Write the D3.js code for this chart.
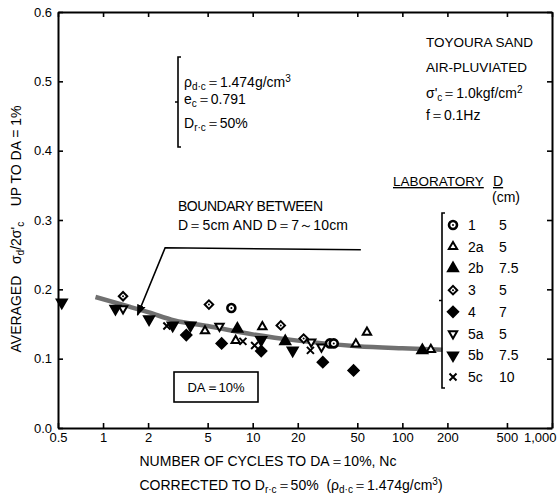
<!DOCTYPE html>
<html>
<head>
<meta charset="utf-8">
<script src="https://cdn.jsdelivr.net/npm/d3@7"></script>
<style>
  body { margin: 0; background: #fff; }
  text { font-family: "Liberation Sans", Arial, sans-serif; fill: #000; white-space: pre; }
</style>
</head>
<body>
<script>
// data: [Nc, averaged stress ratio]
var lab1  = [[7.2, 0.173], [32.8, 0.122], [34.8, 0.122]];
var lab2a = [[4.8, 0.140], [7.7, 0.126], [11.6, 0.146], [48.9, 0.121], [58, 0.138], [155, 0.113]];
var lab2b = [[7.9, 0.143], [16.5, 0.125], [136, 0.112]];
var lab3  = [[1.36, 0.190], [5.1, 0.178], [15.4, 0.148], [21.9, 0.129]];
var lab4  = [[3.6, 0.134], [6.2, 0.122], [11.4, 0.111], [29.4, 0.095], [47.2, 0.083]];
var lab5a = [[1.36, 0.172], [6.0, 0.147], [24.6, 0.124], [28.8, 0.117]];
var lab5b = [[0.53, 0.181], [1.21, 0.172], [2.03, 0.157], [2.92, 0.148], [3.84, 0.148], [11.4, 0.127], [18.5, 0.112]];
var lab5c = [[2.67, 0.147], [8.6, 0.125], [10.3, 0.119], [24.3, 0.112]];

// fitted curve
var curveN = [0.89, 1.5, 2, 3, 5, 10, 20, 50, 100, 185];
var curveV = [0.189, 0.175, 0.167, 0.155, 0.147, 0.135, 0.126, 0.118, 0.115, 0.113];

var labNames = ["1", "2a", "2b", "3", "4", "5a", "5b", "5c"];
var labD = ["5", "5", "7.5", "5", "7", "5", "7.5", "10"];
var labData = [lab1, lab2a, lab2b, lab3, lab4, lab5a, lab5b, lab5c];

var xTicks = [0.5, 1, 2, 5, 10, 20, 50, 100, 200, 500, 1000];
var xTickLabels = ["0.5", "1", "2", "5", "10", "20", "50", "100", "200", "500", "1,000"];
var yTicks = [0, 0.1, 0.2, 0.3, 0.4, 0.5, 0.6];

var w = 557, h = 497;
var svg = d3.select("body").append("svg").attr("width", w).attr("height", h);

var x = d3.scaleLog().domain([0.5, 1000]).range([58, 552]);
var y = d3.scaleLinear().domain([0, 0.6]).range([428, 12]);

// axes, ticks pointing inside
var gx = svg.append("g").attr("transform", "translate(0,428)")
    .call(d3.axisBottom(x).tickValues(xTicks).tickSize(-5).tickSizeOuter(0).tickPadding(5)
        .tickFormat(function(d, i) { return xTickLabels[i]; }));
svg.append("g").attr("transform", "translate(0,12)")
    .call(d3.axisTop(x).tickValues(xTicks).tickSize(-5).tickSizeOuter(0).tickFormat(""));
svg.append("g").attr("transform", "translate(58,0)")
    .call(d3.axisLeft(y).tickValues(yTicks).tickSize(-5).tickSizeOuter(0).tickPadding(6).tickFormat(d3.format(".1f")));
svg.append("g").attr("transform", "translate(552,0)")
    .call(d3.axisRight(y).tickValues(yTicks).tickSize(-5).tickSizeOuter(0).tickFormat(""));

svg.selectAll(".domain").attr("stroke", "#000").attr("stroke-width", 2);
svg.selectAll(".tick line").attr("stroke", "#000").attr("stroke-width", 1.6);
svg.selectAll(".tick text").attr("font-size", "13px").attr("font-family", "Liberation Sans, Arial, sans-serif").attr("fill", "#000");
gx.selectAll(".tick text").filter(function(d) { return d === 1000; })
    .attr("text-anchor", "end").attr("dx", "4px");

// fitted curve
var curvePts = curveN.map(function(n, i) { return [n, curveV[i]]; });
svg.append("path")
    .datum(curvePts)
    .attr("fill", "none")
    .attr("stroke", "#707070")
    .attr("stroke-width", 4.5)
    .attr("d", d3.line().x(function(d) { return x(d[0]); }).y(function(d) { return y(d[1]); }).curve(d3.curveMonotoneX));

// marker shapes
function markerPath(i) {
  var tri = d3.symbol().type(d3.symbolTriangle);
  var sq = d3.symbol().type(d3.symbolSquare);
  switch (i) {
    case 0: return d3.symbol().type(d3.symbolCircle).size(50)();
    case 1: return tri.size(30)();
    case 2: return tri.size(44)();
    case 3: return sq.size(36)();
    case 4: return sq.size(54)();
    case 5: return tri.size(30)();
    case 6: return tri.size(44)();
    case 7: return "M-3.5,-3.5L3.5,3.5M-3.5,3.5L3.5,-3.5";
  }
}
var filled = [false, false, true, false, true, false, true, false];
var rot = [0, 0, 0, 45, 45, 180, 180, 0];

function drawMarker(g, i) {
  g.append("path")
    .attr("d", markerPath(i))
    .attr("transform", "rotate(" + rot[i] + ")")
    .attr("fill", i === 7 ? "none" : (filled[i] ? "#000" : "#fff"))
    .attr("stroke", "#000")
    .attr("stroke-width", i === 0 ? 2.6 : 2);
  if (i === 0 || i === 3) {
    g.append("circle").attr("r", 1).attr("fill", "#000");
  }
}

labData.forEach(function(arr, i) {
  svg.append("g").selectAll("g")
    .data(arr)
    .enter()
    .append("g")
    .attr("transform", function(d) { return "translate(" + x(d[0]) + "," + y(d[1]) + ")"; })
    .each(function() { drawMarker(d3.select(this), i); });
});

// legend
var legY = d3.scaleLinear().domain([0, 7]).range([225, 377]);
svg.append("text").attr("x", 393).attr("y", 186).attr("font-size", "13.5px")
    .attr("text-decoration", "underline").text("LABORATORY");
svg.append("text").attr("x", 493).attr("y", 186).attr("font-size", "14px")
    .attr("text-decoration", "underline").text("D");
svg.append("text").attr("x", 492).attr("y", 202).attr("font-size", "14px").text("(cm)");

function bracket(bx, y1, y2) {
  var ym = (y1 + y2) / 2;
  svg.append("path")
    .attr("d", "M" + (bx + 3) + "," + y1 + "L" + bx + "," + y1 + "L" + bx + "," + y2 + "L" + (bx + 3) + "," + y2 +
      "M" + bx + "," + ym + "L" + (bx - 3) + "," + ym)
    .attr("fill", "none").attr("stroke", "#000").attr("stroke-width", 1.6);
}
bracket(442, 213, 388);

labNames.forEach(function(name, i) {
  var g = svg.append("g").attr("transform", "translate(453," + legY(i) + ")");
  drawMarker(g, i);
  svg.append("text").attr("x", 468).attr("y", legY(i) + 5).attr("font-size", "14px").text(name);
  svg.append("text").attr("x", 499).attr("y", legY(i) + 5).attr("font-size", "14px").text(labD[i]);
});

// top-left conditions
bracket(178, 57, 147);
var t1 = svg.append("text").attr("x", 184).attr("y", 87).attr("font-size", "14px");
t1.append("tspan").text("ρ");
t1.append("tspan").attr("font-size", "10px").attr("dy", 3).text("d·c");
t1.append("tspan").attr("dy", -3).text("＝1.474g/cm");
t1.append("tspan").attr("font-size", "10px").attr("dy", -5).text("3");
var t2 = svg.append("text").attr("x", 184).attr("y", 104).attr("font-size", "14px");
t2.append("tspan").text("e");
t2.append("tspan").attr("font-size", "10px").attr("dy", 3).text("c");
t2.append("tspan").attr("dy", -3).text("＝0.791");
var t3 = svg.append("text").attr("x", 184).attr("y", 128).attr("font-size", "14px");
t3.append("tspan").text("D");
t3.append("tspan").attr("font-size", "10px").attr("dy", 3).text("r·c");
t3.append("tspan").attr("dy", -3).text("＝50%");

// top-right conditions
svg.append("text").attr("x", 426).attr("y", 47).attr("font-size", "13.5px").text("TOYOURA SAND");
svg.append("text").attr("x", 426).attr("y", 72).attr("font-size", "13.5px").text("AIR-PLUVIATED");
var t4 = svg.append("text").attr("x", 426).attr("y", 98).attr("font-size", "14px");
t4.append("tspan").text("σ'");
t4.append("tspan").attr("font-size", "10px").attr("dy", 3).text("c");
t4.append("tspan").attr("dy", -3).text("＝1.0kgf/cm");
t4.append("tspan").attr("font-size", "10px").attr("dy", -5).text("2");
svg.append("text").attr("x", 426).attr("y", 120).attr("font-size", "14px").text("f＝0.1Hz");

// boundary annotation
svg.append("text").attr("x", 178).attr("y", 211).attr("font-size", "14px").attr("textLength", 145).text("BOUNDARY BETWEEN");
svg.append("text").attr("x", 178).attr("y", 230).attr("font-size", "14px").attr("textLength", 170).text("D＝5cm AND D＝7～10cm");
var arrowPts = [[52.8, 0.257], [2.6, 0.26], [1.7, 0.163]];
svg.append("defs").append("marker")
    .attr("id", "ah").attr("viewBox", "0 -5 10 10").attr("refX", 9).attr("refY", 0)
    .attr("markerWidth", 7).attr("markerHeight", 7).attr("orient", "auto")
    .append("path").attr("d", "M0,-4L10,0L0,4Z").attr("fill", "#000");
svg.append("path")
    .datum(arrowPts)
    .attr("fill", "none").attr("stroke", "#000").attr("stroke-width", 1.6)
    .attr("marker-end", "url(#ah)")
    .attr("d", d3.line().x(function(d) { return x(d[0]); }).y(function(d) { return y(d[1]); }));

// DA box
svg.append("rect").attr("x", 174).attr("y", 372).attr("width", 84).attr("height", 30)
    .attr("fill", "#fff").attr("stroke", "#000").attr("stroke-width", 1.6);
svg.append("text").attr("x", 216).attr("y", 392).attr("text-anchor", "middle").attr("font-size", "13px").text("DA＝10%");

// axis titles
var yl = svg.append("text").attr("transform", "translate(21,229) rotate(-90)")
    .attr("text-anchor", "middle").attr("font-size", "14px");
yl.append("tspan").text("AVERAGED   σ");
yl.append("tspan").attr("font-size", "10px").attr("dy", 3).text("d");
yl.append("tspan").attr("dy", -3).text("/2σ'");
yl.append("tspan").attr("font-size", "10px").attr("dy", 3).text("c");
yl.append("tspan").attr("dy", -3).text("    UP TO DA = 1%");

svg.append("text").attr("x", 268).attr("y", 466).attr("text-anchor", "middle").attr("font-size", "14px")
    .text("NUMBER OF CYCLES TO DA＝10%, Nc");
var xl = svg.append("text").attr("x", 291).attr("y", 490).attr("text-anchor", "middle").attr("font-size", "14px");
xl.append("tspan").text("CORRECTED TO D");
xl.append("tspan").attr("font-size", "10px").attr("dy", 3).text("r·c");
xl.append("tspan").attr("dy", -3).text("＝50%  (ρ");
xl.append("tspan").attr("font-size", "10px").attr("dy", 3).text("d·c");
xl.append("tspan").attr("dy", -3).text("＝1.474g/cm");
xl.append("tspan").attr("font-size", "10px").attr("dy", -5).text("3");
xl.append("tspan").attr("dy", 5).text(")");
</script>
</body>
</html>
